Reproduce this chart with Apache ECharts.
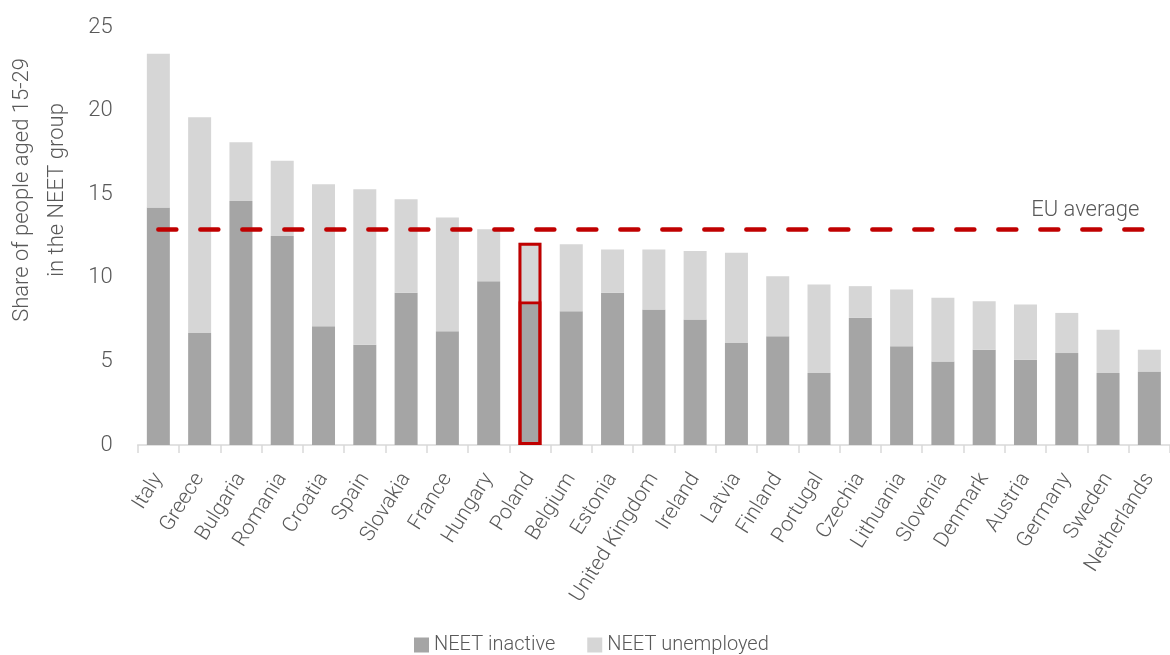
<!DOCTYPE html>
<html>
<head>
<meta charset="utf-8">
<script src="https://cdn.jsdelivr.net/npm/echarts@6/dist/echarts.min.js"></script>
<style>
html,body{margin:0;padding:0;background:#fff;}
#chart{width:1170px;height:655px;}
</style>
</head>
<body>
<div id="chart"></div>
<script>
const countries = ['Italy','Greece','Bulgaria','Romania','Croatia','Spain','Slovakia','France','Hungary','Poland','Belgium','Estonia','United Kingdom','Ireland','Latvia','Finland','Portugal','Czechia','Lithuania','Slovenia','Denmark','Austria','Germany','Sweden','Netherlands'];
const neetInactive = [14.2, 6.7, 14.6, 12.5, 7.1, 6.0, 9.1, 6.8, 9.8, 8.6, 8.0, 9.1, 8.1, 7.5, 6.1, 6.5, 4.3, 7.6, 5.9, 5.0, 5.7, 5.1, 5.5, 4.3, 4.4];
const neetUnemployed = [9.2, 12.9, 3.5, 4.5, 8.5, 9.3, 5.6, 6.8, 3.1, 3.5, 4.0, 2.6, 3.6, 4.1, 5.4, 3.6, 5.3, 1.9, 3.4, 3.8, 2.9, 3.3, 2.4, 2.6, 1.3];
const euAverage = 12.9;
const highlighted = 'Poland';
const yTicks = [0, 5, 10, 15, 20, 25];

const FONT = 'Roboto';
const TXT = '#595959';
const RED = '#C00000';

const chart = echarts.init(document.getElementById('chart'), null, { renderer: 'canvas' });
chart.setOption({
  animation: false,
  textStyle: { fontFamily: FONT, fontWeight: 300 },
  grid: { left: 137.7, right: 0, top: 27, bottom: 210, containLabel: false },
  legend: {
    top: 635,
    left: 414,
    padding: 0,
    itemWidth: 15,
    itemHeight: 15,
    itemGap: 32,
    icon: 'rect',
    textStyle: { fontFamily: FONT, fontWeight: 300, fontSize: 20, color: TXT },
    data: ['NEET inactive', 'NEET unemployed']
  },
  xAxis: {
    type: 'category',
    data: countries,
    axisLine: { lineStyle: { color: '#D9D9D9', width: 1.5 } },
    axisTick: { show: true, length: 8, lineStyle: { color: '#D9D9D9', width: 1.5 } },
    axisLabel: { interval: 0, rotate: 58, margin: 30, fontFamily: FONT, fontWeight: 300, fontSize: 21, color: TXT }
  },
  yAxis: {
    type: 'value',
    min: yTicks[0],
    max: yTicks[yTicks.length - 1],
    interval: 5,
    splitLine: { show: false },
    axisLine: { show: false },
    axisTick: { show: false },
    axisLabel: { margin: 25, fontFamily: FONT, fontWeight: 300, fontSize: 22, color: TXT }
  },
  graphic: [{
    type: 'text',
    x: 40,
    y: 190,
    rotation: Math.PI / 2,
    style: {
      text: 'Share of people aged 15-29\nin the NEET group',
      font: '300 22px Roboto',
      fill: TXT,
      align: 'center',
      verticalAlign: 'middle',
      lineHeight: 35
    }
  }],
  series: [
    {
      name: 'NEET inactive',
      type: 'bar',
      stack: 'neet',
      barWidth: 23,
      barGap: '-100%',
      itemStyle: { color: '#A5A5A5' },
      data: neetInactive.map((v, i) => countries[i] === highlighted
        ? { value: v, itemStyle: { borderColor: RED, borderWidth: 3 } } : v),
      markLine: {
        silent: true,
        symbol: 'none',
        lineStyle: { color: RED, width: 4.5, type: [18, 24], cap: 'round' },
        label: {
          show: true,
          position: 'insideEndTop',
          formatter: 'EU average',
          fontFamily: FONT, fontWeight: 300, fontSize: 22, color: TXT,
          distance: [10, 8]
        },
        data: [[{ coord: [countries[0], euAverage] }, { coord: [countries[countries.length - 1], euAverage] }]]
      }
    },
    {
      name: 'NEET unemployed',
      type: 'bar',
      stack: 'neet',
      barWidth: 23,
      barGap: '-100%',
      itemStyle: { color: '#D6D6D6' },
      data: neetUnemployed
    },
    {
      name: 'highlight',
      type: 'bar',
      barWidth: 23,
      barGap: '-100%',
      z: 5,
      silent: true,
      itemStyle: { color: 'rgba(0,0,0,0)', borderColor: RED, borderWidth: 3 },
      data: countries.map((c, i) => c === highlighted ? neetInactive[i] + neetUnemployed[i] : '-')
    }
  ]
});
</script>
</body>
</html>
